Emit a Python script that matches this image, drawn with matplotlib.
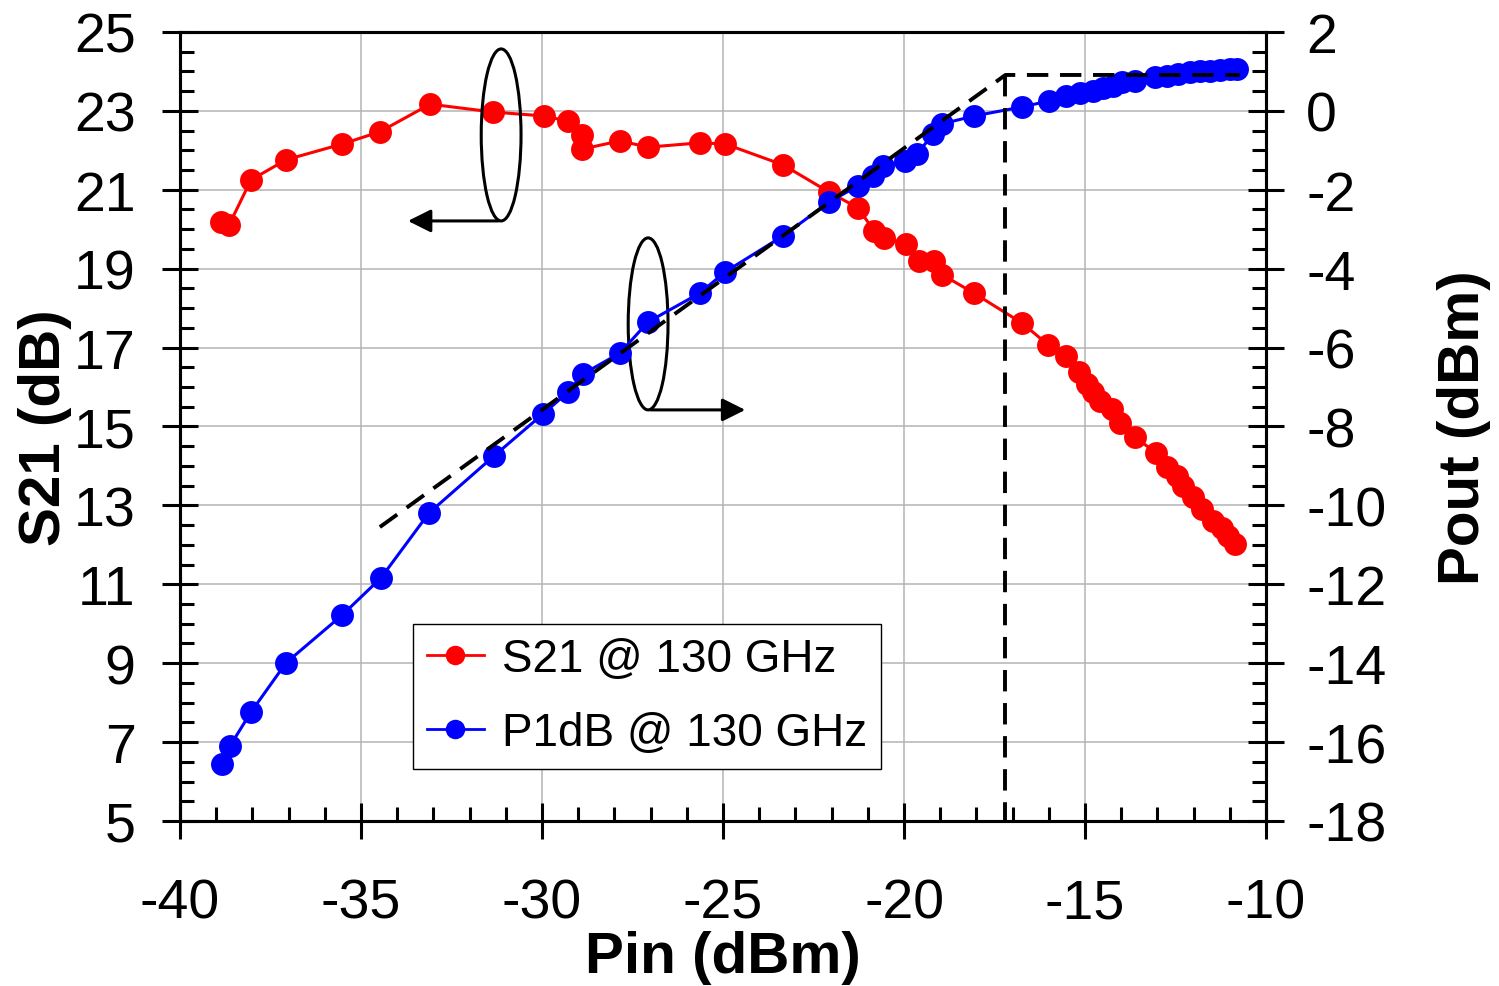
import numpy as np
import matplotlib.pyplot as plt
from matplotlib.patches import Ellipse
from matplotlib.ticker import MultipleLocator

plt.rcParams['font.family'] = ['Liberation Sans', 'DejaVu Sans']
plt.rcParams['axes.unicode_minus'] = False

# S21 vs Pin (left axis)
pin_s21 = [-38.87, -38.65, -38.04, -37.07, -35.52, -34.48, -33.09, -31.35, -29.94, -29.28,
           -28.89, -28.89, -27.85, -27.07, -25.64, -24.94, -23.34, -22.07, -21.27, -20.83,
           -20.55, -19.94, -19.59, -19.17, -18.95, -18.07, -16.74, -16.02, -15.52, -15.17,
           -14.94, -14.78, -14.59, -14.25, -14.03, -13.62, -13.04, -12.73, -12.46, -12.29,
           -12.02, -11.77, -11.46, -11.22, -11.05, -10.86]
s21 = [20.18, 20.10, 21.25, 21.76, 22.16, 22.47, 23.17, 22.97, 22.87, 22.74,
       22.39, 22.03, 22.24, 22.08, 22.19, 22.16, 21.63, 20.94, 20.54, 19.96,
       19.78, 19.63, 19.20, 19.20, 18.85, 18.38, 17.62, 17.07, 16.79, 16.38,
       16.08, 15.87, 15.65, 15.44, 15.09, 14.73, 14.33, 13.97, 13.75, 13.49,
       13.21, 12.91, 12.60, 12.43, 12.22, 12.02]

# Pout vs Pin (right axis)
pin_pout = [-38.84, -38.62, -38.04, -37.07, -35.52, -34.45, -33.12, -31.33, -29.97, -29.28,
            -28.87, -27.85, -27.07, -25.64, -24.94, -23.34, -22.07, -21.27, -20.86, -20.58,
            -19.97, -19.64, -19.20, -18.95, -18.07, -16.74, -16.00, -15.52, -15.14, -14.78,
            -14.50, -14.23, -13.98, -13.62, -13.07, -12.74, -12.43, -12.10, -11.82, -11.55,
            -11.27, -11.00, -10.80]
pout = [-16.55, -16.10, -15.24, -13.99, -12.78, -11.84, -10.19, -8.75, -7.68, -7.13,
        -6.67, -6.14, -5.35, -4.62, -4.08, -3.17, -2.31, -1.90, -1.65, -1.40,
        -1.27, -1.09, -0.59, -0.33, -0.13, 0.10, 0.25, 0.38, 0.45, 0.50,
        0.58, 0.63, 0.73, 0.76, 0.86, 0.88, 0.93, 0.99, 1.01, 1.01,
        1.04, 1.06, 1.06]

# P1dB construction lines (right axis units)
fit_x = [-34.48, -17.2, -10.72]
fit_y = [-10.55, 0.91, 0.91]
p1db_x = [-17.2, -17.2]
p1db_y = [0.91, -18]

left_ticks = np.arange(5, 26, 2)
right_ticks = np.arange(-18, 3, 2)

fig = plt.figure(figsize=(14.99, 9.87), dpi=100)
ax = fig.add_axes([0.1201, 0.1672, 0.7245, 0.7994])
ax2 = ax.twinx()

ax.set_xlim(-40, -10)
ax.set_ylim(5, 25)
ax2.set_ylim(-18, 2)

ax.xaxis.set_major_locator(MultipleLocator(5))
ax.xaxis.set_minor_locator(MultipleLocator(1))
ax.set_yticks(left_ticks)
ax.yaxis.set_minor_locator(MultipleLocator(0.5))
ax2.set_yticks(right_ticks)
ax2.yaxis.set_minor_locator(MultipleLocator(0.5))

ax.grid(True, which='major', color='#b4b4b4', linewidth=1.1)
ax.set_axisbelow(True)

for a in (ax, ax2):
    for sp in a.spines.values():
        sp.set_linewidth(2.2)
    a.tick_params(which='major', direction='inout', length=26, width=2.2, labelsize=40)
    a.tick_params(which='minor', direction='in', length=10, width=2.2)
ax.tick_params(axis='x', which='major', pad=28)
ax.tick_params(axis='y', which='major', pad=19)
ax2.tick_params(axis='y', which='major', pad=16)

l1, = ax.plot(pin_s21, s21, '-o', color='red', lw=2.2, ms=16.5, mec='none', zorder=3,
              label='S21 @ 130 GHz')
l2, = ax2.plot(pin_pout, pout, '-o', color='blue', lw=2.2, ms=16.5, mec='none', zorder=3,
               label='P1dB @ 130 GHz')
ax2.plot(fit_x, fit_y, color='black', lw=2.8, ls=(0, (5.5, 3)), zorder=4)
ax2.plot(p1db_x, p1db_y, color='black', lw=2.8, ls=(0, (5.5, 3)), zorder=4)

# ellipse + arrow annotations
ax.add_patch(Ellipse((-31.13, 22.39), 1.1, 4.36, fill=False, color='black', lw=2.2, zorder=5))
ax.annotate('', xy=(-33.78, 20.21), xytext=(-31.13, 20.21),
            arrowprops=dict(arrowstyle='-|>', color='black', lw=2.2, mutation_scale=35))
ax.add_patch(Ellipse((-27.07, 17.6), 1.1, 4.36, fill=False, color='black', lw=2.2, zorder=5))
ax.annotate('', xy=(-24.31, 15.42), xytext=(-27.07, 15.42),
            arrowprops=dict(arrowstyle='-|>', color='black', lw=2.2, mutation_scale=35))

leg = ax2.legend(handles=[l1, l2], loc='lower left', bbox_to_anchor=(0.2145, 0.0659),
                 borderaxespad=0, fontsize=33, fancybox=False, framealpha=1,
                 edgecolor='black', handlelength=1.25, handletextpad=0.4,
                 borderpad=0.3, labelspacing=0.65, markerscale=0.85)
leg.get_frame().set_linewidth(1.0)
for h in leg.legend_handles:
    h.set_linewidth(2.0)

ax.set_xlabel('Pin (dBm)', fontsize=42, fontweight='bold', labelpad=0)
ax.set_ylabel('S21 (dB)', fontsize=42, fontweight='bold', labelpad=1)
ax2.set_ylabel('Pout (dBm)', fontsize=42, fontweight='bold', labelpad=36)

fig.savefig('out.png', dpi=100)
